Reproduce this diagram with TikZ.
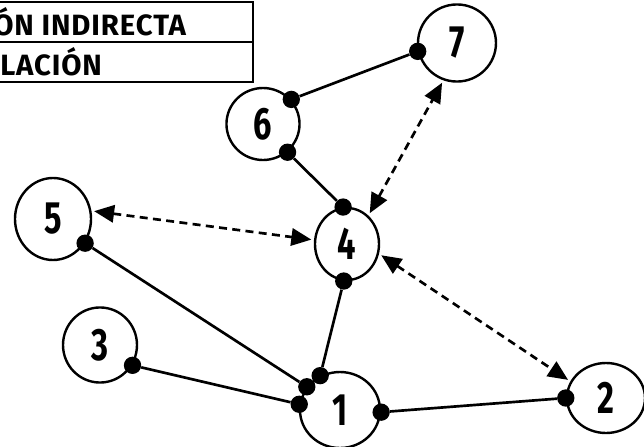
\documentclass[tikz,border=0pt]{standalone}
\usepackage{fontspec}
\setsansfont{Fira Sans}
\usepackage{graphicx}
\usetikzlibrary{arrows.meta,shapes.geometric}

\newcommand{\narrow}[1]{\scalebox{0.72}[1]{#1}}

\begin{document}
\begin{tikzpicture}[
    x=0.75pt, y=-0.75pt,
    font=\sffamily,
    every node/.style={align=center},
]

% Styles
\tikzset{
  party/.style={ellipse, draw, line width=1.8pt, inner sep=0pt,
    font=\fontsize{34}{34}\selectfont\sffamily\bfseries},
  joint/.style={circle, fill, inner sep=0pt, minimum size=13pt},
  tie/.style={line width=2pt},
  mutual/.style={line width=2pt, dash pattern=on 6pt off 4pt,
    {Triangle[length=15pt,width=13pt]}-{Triangle[length=15pt,width=13pt]},
    shorten <=2pt, shorten >=2pt},
  rowtext/.style={anchor=west, inner sep=0pt,
    font=\fontsize{22}{22}\selectfont\sffamily\bfseries\addfontfeatures{LetterSpace=3}},
}

\useasboundingbox (0,0) rectangle (644,447);
\clip (0,0) rectangle (644,447);

% Legend table (cut at the left edge)
\draw[line width=1.5pt] (-10,2) -- (253,2) -- (253,82) -- (-10,82);
\draw[line width=1.5pt] (-10,42) -- (253,42);
\node[rowtext] (rowa) at (-7,22) {ÓN INDIRECTA};
\node[rowtext] (rowb) at (0,62) {LACIÓN};

% Parties
\node[party, minimum width=58.5pt, minimum height=57.8pt] (p7) at (457,43) {\narrow{7}};
\node[party, minimum width=54.8pt, minimum height=54pt] (p6) at (263,124) {\narrow{6}};
\node[party, minimum width=48pt, minimum height=54pt] (p4) at (347,244) {\narrow{4}};
\node[party, minimum width=57pt, minimum height=61.5pt] (p5) at (53,219) {\narrow{5}};
\node[party, minimum width=55.5pt, minimum height=56.3pt] (p3) at (100,345) {\narrow{3}};
\node[party, minimum width=60pt, minimum height=57pt] (p1) at (340,410) {\narrow{1}};
\node[party, minimum width=58.5pt, minimum height=52.5pt] (p2) at (606,398) {\narrow{2}};

% Joints on the borders
\node[joint] (j76) at (p7.192) {};
\node[joint] (j67) at (p6.41) {};
\node[joint] (j64) at (p6.311) {};
\node[joint] (j46) at (p4.96) {};
\node[joint] (j41) at (p4.265) {};
\node[joint] (j14) at (p1.120) {};
\node[joint] (j15) at (p1.145) {};
\node[joint] (j13) at (p1.172) {};
\node[joint] (j12) at (p1.357) {};
\node[joint] (j51) at (p5.323) {};
\node[joint] (j31) at (p3.328) {};
\node[joint] (j21) at (p2.180) {};

% Direct ties
\draw[tie] (j76) -- (j67);
\draw[tie] (j64) -- (j46);
\draw[tie] (j41) -- (j14);
\draw[tie] (j51) -- (j15);
\draw[tie] (j31) -- (j13);
\draw[tie] (j12) -- (j21);

% Indirect relations
\draw[mutual] (p5.12) -- (p4.173);
\draw[mutual] (p4.343) -- (p2.155);
\draw[mutual] (p4.53) -- (p7.250);

\end{tikzpicture}
\end{document}
